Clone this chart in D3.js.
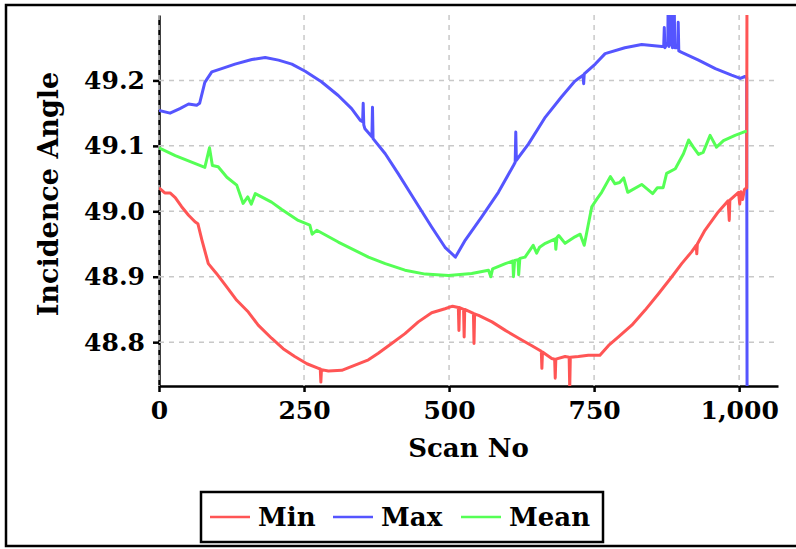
<!DOCTYPE html>
<html>
<head>
<meta charset="utf-8">
<script src="https://cdn.jsdelivr.net/npm/d3@7"></script>
<style>
  body { margin: 0; background: #fff; }
  text { font-family: "DejaVu Serif", serif; font-weight: bold; }
</style>
</head>
<body>
<div id="chart"></div>
<script>
// Data (scan number, incidence angle)
const minScan = [0,10,19,28,39,51,62,67,74,85,99,117,134,154,171,194,214,234,255,275,278,279,280,292,315,338,361,378,401,424,447,470,493,506,516,517,518,525,526,527,542,543,544,551,574,597,620,642,659,660,661,677,682,683,684,700,707,708,709,723,740,760,775,792,815,838,861,884,901,918,926,927,928,941,964,981,983,984,999,1001,1003,1006,1009,1013,1014];
const minVal  = [49.036,49.028,49.028,49.021,49.007,48.994,48.984,48.981,48.956,48.920,48.905,48.884,48.864,48.846,48.826,48.806,48.790,48.778,48.767,48.760,48.759,48.739,48.758,48.756,48.757,48.765,48.773,48.783,48.798,48.813,48.831,48.845,48.851,48.855,48.853,48.818,48.853,48.850,48.808,48.850,48.844,48.798,48.843,48.841,48.831,48.818,48.806,48.795,48.786,48.760,48.785,48.775,48.774,48.745,48.774,48.778,48.777,48.730,48.777,48.778,48.780,48.780,48.795,48.808,48.826,48.849,48.874,48.900,48.920,48.938,48.948,48.935,48.950,48.971,48.999,49.016,48.986,49.017,49.029,49.011,49.030,49.018,49.033,49.036,49.6];

const maxScan = [0,19,36,51,65,70,79,91,108,131,160,183,206,229,252,280,309,332,347,351,352,353,355,367,368,369,390,412,441,470,493,511,528,556,585,611,614,615,616,637,666,694,717,723,731,732,733,752,769,803,832,867,870,871,872,877,878,879,883,884,885,887,888,889,894,895,896,901,930,959,987,1002,1010,1013,1014];
const maxVal  = [49.154,49.150,49.157,49.164,49.162,49.165,49.197,49.213,49.218,49.225,49.232,49.235,49.231,49.225,49.214,49.198,49.177,49.157,49.139,49.137,49.165,49.132,49.126,49.114,49.159,49.111,49.088,49.058,49.017,48.976,48.945,48.930,48.956,48.991,49.029,49.070,49.075,49.121,49.078,49.103,49.144,49.175,49.199,49.203,49.208,49.195,49.210,49.225,49.241,49.250,49.255,49.252,49.252,49.281,49.250,49.258,49.35,49.252,49.26,49.35,49.25,49.26,49.33,49.25,49.25,49.289,49.245,49.243,49.231,49.218,49.208,49.203,49.206,49.204,48.5];

const meanScan = [0,28,79,87,92,102,117,134,145,153,159,166,194,211,240,260,264,272,309,361,390,424,459,499,539,568,572,575,597,610,611,613,619,620,622,631,645,651,656,666,683,684,686,689,700,717,726,733,746,755,763,778,786,794,801,808,832,851,859,869,875,890,904,913,921,930,938,950,961,973,993,1011,1013];
const meanVal  = [49.097,49.085,49.067,49.097,49.070,49.068,49.052,49.040,49.012,49.022,49.011,49.027,49.014,49.003,48.986,48.979,48.965,48.971,48.953,48.930,48.920,48.910,48.904,48.902,48.905,48.910,48.900,48.912,48.920,48.924,48.900,48.925,48.926,48.903,48.928,48.930,48.948,48.936,48.945,48.951,48.958,48.942,48.960,48.963,48.951,48.961,48.965,48.948,49.007,49.019,49.029,49.053,49.042,49.044,49.051,49.029,49.041,49.027,49.036,49.036,49.058,49.065,49.088,49.109,49.098,49.087,49.090,49.116,49.098,49.108,49.116,49.122,49.122];

const xTicks = [0, 250, 500, 750, 1000];
const yTicks = [48.8, 48.9, 49.0, 49.1, 49.2];

const seriesNames = ["Min", "Max", "Mean"];
const seriesColors = ["#ff5555", "#5555ff", "#55ff55"];

// Layout
const W = 796, H = 549;
const margin = {top: 15, right: 18, bottom: 163, left: 159},
      width = W - margin.left - margin.right,
      height = H - margin.top - margin.bottom;

const svg = d3.select("#chart").append("svg")
    .attr("width", W)
    .attr("height", H);

// outer frame
svg.append("rect")
    .attr("x", 6).attr("y", 5)
    .attr("width", 820).attr("height", 541)
    .attr("fill", "none")
    .attr("stroke", "#000")
    .attr("stroke-width", 2.5);

const g = svg.append("g")
    .attr("transform", "translate(" + margin.left + "," + margin.top + ")");

const x = d3.scaleLinear().domain([0, 1067]).range([0, width]);
const y = d3.scaleLinear().domain([48.733, 49.3]).range([height, 0]);

g.append("clipPath").attr("id", "clip")
  .append("rect").attr("width", width).attr("height", height);

// axes
const xAxis = g.append("g")
    .attr("transform", "translate(0," + height + ")")
    .call(d3.axisBottom(x).tickValues(xTicks).tickFormat(d3.format(",")).tickSize(6).tickSizeOuter(0).tickPadding(9));
const yAxis = g.append("g")
    .call(d3.axisLeft(y).tickValues(yTicks).tickFormat(d3.format(".1f")).tickSize(6).tickSizeOuter(0).tickPadding(8));

[xAxis, yAxis].forEach(a => {
  a.select(".domain").attr("stroke-width", 2.5);
  a.selectAll(".tick line").attr("stroke-width", 2.5);
  a.selectAll("text").attr("font-size", 25).attr("fill", "#000")
    .attr("font-family", "DejaVu Serif").attr("font-weight", "bold");
});

// grid
const grid = g.append("g").attr("stroke", "#c8c8c8").attr("stroke-width", 1.5).attr("stroke-dasharray", "5,5");
grid.selectAll(".gx").data(xTicks).join("line")
    .attr("x1", d => x(d)).attr("x2", d => x(d))
    .attr("y1", 0).attr("y2", height);
grid.selectAll(".gy").data(yTicks).join("line")
    .attr("x1", 0).attr("x2", width)
    .attr("y1", d => y(d)).attr("y2", d => y(d));

// lines
const line = d3.line()
    .x(d => x(d[0]))
    .y(d => y(d[1]));

const series = [
  {name: "Max", pts: d3.zip(maxScan, maxVal), color: seriesColors[1]},
  {name: "Min", pts: d3.zip(minScan, minVal), color: seriesColors[0]},
  {name: "Mean", pts: d3.zip(meanScan, meanVal), color: seriesColors[2]}
];

g.append("g").attr("clip-path", "url(#clip)")
  .selectAll("path")
  .data(series)
  .join("path")
    .attr("d", d => line(d.pts))
    .attr("fill", "none")
    .attr("stroke", d => d.color)
    .attr("stroke-width", 3)
    .attr("stroke-linejoin", "round");

// axis titles
svg.append("text")
    .attr("x", margin.left + width / 2)
    .attr("y", 457)
    .attr("text-anchor", "middle")
    .attr("font-size", 26)
    .text("Scan No");

svg.append("text")
    .attr("transform", "translate(58," + 194 + ") rotate(-90)")
    .attr("text-anchor", "middle")
    .attr("font-size", 27)
    .text("Incidence Angle");

// legend
const legend = svg.append("g");
legend.append("rect")
    .attr("x", 201).attr("y", 492)
    .attr("width", 402).attr("height", 50)
    .attr("fill", "#fff")
    .attr("stroke", "#000")
    .attr("stroke-width", 2.5);

const legX = [210, 333, 461];
const items = legend.selectAll("g.item")
    .data(seriesNames)
    .join("g")
    .attr("transform", (d, i) => "translate(" + legX[i] + ",517)");
items.append("line")
    .attr("x1", 0).attr("x2", 40)
    .attr("stroke", (d, i) => seriesColors[i])
    .attr("stroke-width", 2.5);
items.append("text")
    .attr("x", 48).attr("y", 9)
    .attr("font-size", 26)
    .text(d => d);
</script>
</body>
</html>
